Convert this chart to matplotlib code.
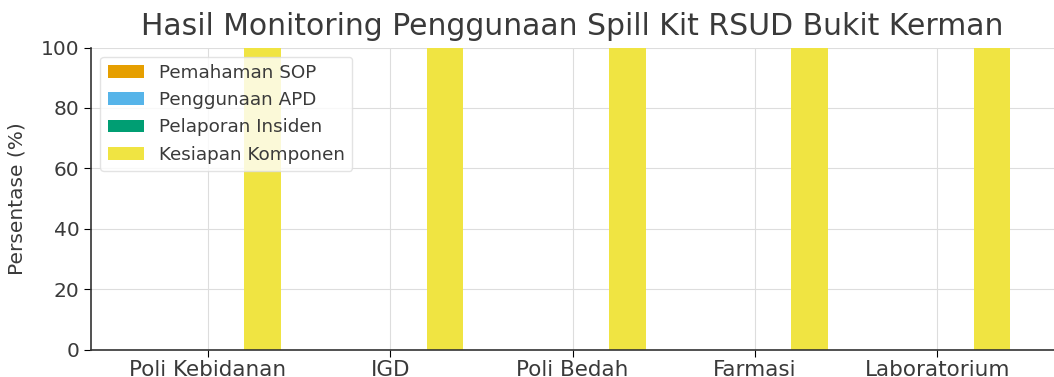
import numpy as np
import matplotlib
matplotlib.use("Agg")
import matplotlib.pyplot as plt

units = ["Poli Kebidanan", "IGD", "Poli Bedah", "Farmasi", "Laboratorium"]
pemahaman_sop = [0, 0, 0, 0, 0]
penggunaan_apd = [0, 0, 0, 0, 0]
pelaporan_insiden = [0, 0, 0, 0, 0]
kesiapan_komponen = [100, 100, 100, 100, 100]

series = [
    ("Pemahaman SOP", pemahaman_sop, "#E69F00"),
    ("Penggunaan APD", penggunaan_apd, "#56B4E9"),
    ("Pelaporan Insiden", pelaporan_insiden, "#009E73"),
    ("Kesiapan Komponen", kesiapan_komponen, "#F0E442"),
]

text_color = "#3a3a3a"

fig = plt.figure(figsize=(10.54, 3.77), dpi=100)
ax = fig.add_axes([0.0865, 0.072, 0.9135, 0.802])

x = np.arange(len(units))
width = 0.2
for i, (name, vals, color) in enumerate(series):
    ax.bar(x + (i - 1.5) * width, vals, width, label=name, color=color, zorder=2)

ax.set_xticks(x)
ax.set_xticklabels(units, fontsize=15.5, color=text_color)
ax.set_ylim(0, 100)
ax.set_yticks(np.arange(0, 101, 20))
ax.tick_params(axis="y", labelsize=14.5, labelcolor=text_color, length=5)
ax.tick_params(axis="x", length=5, pad=2)
ax.set_ylabel("Persentase (%)", fontsize=14.5, color=text_color, labelpad=10)
ax.set_title("Hasil Monitoring Penggunaan Spill Kit RSUD Bukit Kerman",
             fontsize=21.5, color=text_color, pad=9)

ax.grid(True, color="#dddddd", linewidth=0.8, zorder=0)
ax.set_axisbelow(True)
ax.spines["top"].set_visible(False)
ax.spines["right"].set_visible(False)
for s in ("left", "bottom"):
    ax.spines[s].set_color("#333333")
    ax.spines[s].set_linewidth(1.2)

ax.legend(loc="upper left", fontsize=13.2, frameon=True, framealpha=0.8,
          edgecolor="#dddddd", labelcolor=text_color)

fig.savefig("out.png", dpi=100, facecolor="white")
